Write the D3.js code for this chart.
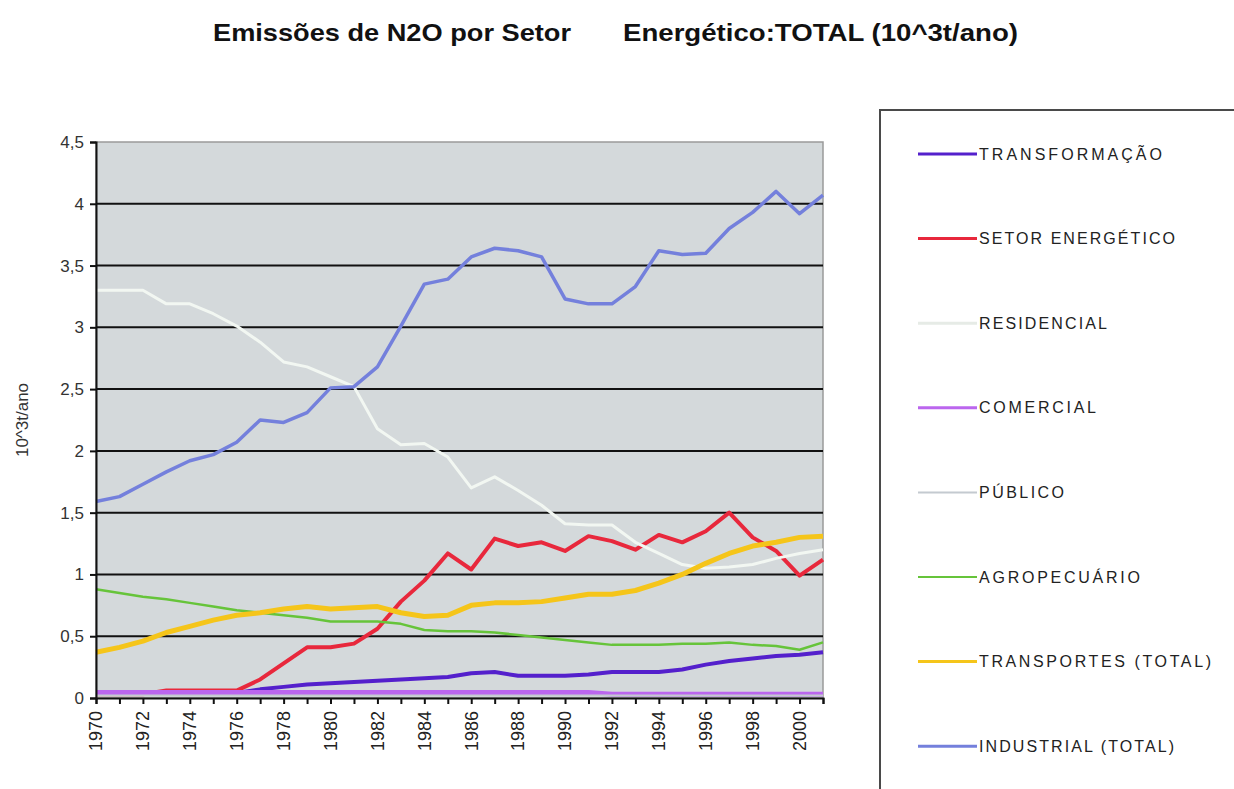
<!DOCTYPE html>
<html>
<head>
<meta charset="utf-8">
<script src="https://d3js.org/d3.v7.min.js"></script>
<style>
    body { margin: 0; background: #fff; }
    svg { display: block; font-family: "Liberation Sans", Arial, sans-serif; }
</style>
</head>
<body>
<div id="chart"></div>
<script>
// Data (10^3 t/ano)
const years = d3.range(1970, 2002);
const yTicks = [0, 0.5, 1, 1.5, 2, 2.5, 3, 3.5, 4, 4.5];
const yearLabels = d3.range(1970, 2001, 2);

const transformacao = [0.04, 0.04, 0.04, 0.04, 0.04, 0.04, 0.04, 0.07, 0.09, 0.11, 0.12, 0.13, 0.14, 0.15, 0.16, 0.17,
    0.20, 0.21, 0.18, 0.18, 0.18, 0.19, 0.21, 0.21, 0.21, 0.23, 0.27, 0.30, 0.32, 0.34, 0.35, 0.37];
const setorEnergetico = [0.03, 0.03, 0.03, 0.06, 0.06, 0.06, 0.06, 0.15, 0.28, 0.41, 0.41, 0.44, 0.56, 0.78, 0.95, 1.17,
    1.04, 1.29, 1.23, 1.26, 1.19, 1.31, 1.27, 1.20, 1.32, 1.26, 1.35, 1.50, 1.30, 1.19, 0.99, 1.12];
const residencial = [3.30, 3.30, 3.30, 3.19, 3.19, 3.11, 3.01, 2.88, 2.72, 2.68, 2.60, 2.52, 2.18, 2.05, 2.06, 1.95,
    1.70, 1.79, 1.68, 1.56, 1.41, 1.40, 1.40, 1.26, 1.17, 1.08, 1.05, 1.06, 1.08, 1.13, 1.17, 1.20];
const comercial = [0.045, 0.045, 0.045, 0.045, 0.045, 0.045, 0.045, 0.045, 0.045, 0.045, 0.045, 0.045, 0.045, 0.045, 0.045, 0.045,
    0.045, 0.045, 0.045, 0.045, 0.045, 0.045, 0.03, 0.03, 0.03, 0.03, 0.03, 0.03, 0.03, 0.03, 0.03, 0.03];
const publico = [0.02, 0.02, 0.02, 0.02, 0.02, 0.02, 0.02, 0.02, 0.02, 0.02, 0.02, 0.02, 0.02, 0.02, 0.02, 0.02,
    0.02, 0.02, 0.02, 0.02, 0.02, 0.02, 0.02, 0.02, 0.02, 0.02, 0.02, 0.02, 0.02, 0.02, 0.02, 0.02];
const agropecuario = [0.88, 0.85, 0.82, 0.80, 0.77, 0.74, 0.71, 0.69, 0.67, 0.65, 0.62, 0.62, 0.62, 0.60, 0.55, 0.54,
    0.54, 0.53, 0.51, 0.49, 0.47, 0.45, 0.43, 0.43, 0.43, 0.44, 0.44, 0.45, 0.43, 0.42, 0.39, 0.45];
const transportes = [0.37, 0.41, 0.46, 0.53, 0.58, 0.63, 0.67, 0.69, 0.72, 0.74, 0.72, 0.73, 0.74, 0.69, 0.66, 0.67,
    0.75, 0.77, 0.77, 0.78, 0.81, 0.84, 0.84, 0.87, 0.93, 1.00, 1.09, 1.17, 1.23, 1.26, 1.30, 1.31];
const industrial = [1.59, 1.63, 1.73, 1.83, 1.92, 1.97, 2.07, 2.25, 2.23, 2.31, 2.51, 2.52, 2.68, 3.01, 3.35, 3.39,
    3.57, 3.64, 3.62, 3.57, 3.23, 3.19, 3.19, 3.33, 3.62, 3.59, 3.60, 3.80, 3.93, 4.10, 3.92, 4.07];

// Series in Excel drawing order (later ones on top)
const series = [
    { name: 'TRANSFORMAÇÃO', values: transformacao, color: '#5420cc', width: 4 },
    { name: 'SETOR ENERGÉTICO', values: setorEnergetico, color: '#e8283c', width: 4 },
    { name: 'RESIDENCIAL', values: residencial, color: '#f2f7f2', width: 3 },
    { name: 'COMERCIAL', values: comercial, color: '#bb66ee', width: 5 },
    { name: 'PÚBLICO', values: publico, color: '#c4cad0', width: 2 },
    { name: 'AGROPECUÁRIO', values: agropecuario, color: '#66c43a', width: 2.5 },
    { name: 'TRANSPORTES (TOTAL)', values: transportes, color: '#f5c51a', width: 5 },
    { name: 'INDUSTRIAL (TOTAL)', values: industrial, color: '#7480dc', width: 3.5 }
];
const legendWidths = [183, 196, 128, 117, 85, 161, 232, 195];

const width = 1234;
const height = 789;
const margin = { top: 142, right: 411, bottom: 91, left: 96 };
const innerWidth = width - margin.left - margin.right;
const innerHeight = height - margin.top - margin.bottom;

const svg = d3.select('#chart')
    .append('svg')
    .attr('width', width)
    .attr('height', height);

// Title, in two pieces as in the original
svg.append('text')
    .attr('x', 213).attr('y', 41)
    .attr('font-size', 24).attr('font-weight', 'bold')
    .attr('fill', '#111')
    .attr('textLength', 358).attr('lengthAdjust', 'spacingAndGlyphs')
    .text('Emissões de N2O por Setor');
svg.append('text')
    .attr('x', 623).attr('y', 41)
    .attr('font-size', 24).attr('font-weight', 'bold')
    .attr('fill', '#111')
    .attr('textLength', 395).attr('lengthAdjust', 'spacingAndGlyphs')
    .text('Energético:TOTAL (10^3t/ano)');

const g = svg.append('g')
    .attr('transform', `translate(${margin.left},${margin.top})`);

// Scales
const x = d3.scaleLinear()
    .domain([1970, 2001])
    .range([0, innerWidth]);
const y = d3.scaleLinear()
    .domain([0, 4.5])
    .range([innerHeight, 0]);

// Plot background
g.append('rect')
    .attr('width', innerWidth)
    .attr('height', innerHeight)
    .attr('fill', '#d4d9db')
    .attr('stroke', '#9a9a9a')
    .attr('stroke-width', 1.5);

// Gridlines
g.selectAll('.grid')
    .data(yTicks.filter(d => d > 0 && d < 4.5))
    .enter()
    .append('line')
    .attr('class', 'grid')
    .attr('x1', 0).attr('x2', innerWidth)
    .attr('y1', d => y(d)).attr('y2', d => y(d))
    .attr('stroke', '#111')
    .attr('stroke-width', 2);

// Lines
const line = d3.line()
    .x((d, i) => x(years[i]))
    .y(d => y(d));

g.selectAll('.series')
    .data(series)
    .enter()
    .append('path')
    .attr('class', 'series')
    .attr('d', d => line(d.values))
    .attr('fill', 'none')
    .attr('stroke', d => d.color)
    .attr('stroke-width', d => d.width)
    .attr('stroke-linejoin', 'round');

// Y axis
const yAxis = d3.axisLeft(y)
    .tickValues(yTicks)
    .tickSize(6)
    .tickPadding(6)
    .tickFormat(d => String(d).replace('.', ','));

const yAxisG = g.append('g').call(yAxis);
yAxisG.attr('font-size', 17).attr('font-family', '"Liberation Sans", Arial, sans-serif');
yAxisG.select('.domain').attr('stroke', '#111').attr('stroke-width', 2);
yAxisG.selectAll('.tick line').attr('stroke', '#111').attr('stroke-width', 2);
yAxisG.selectAll('text').attr('fill', '#333');

// X axis: a tick every year; labels every 2 years drawn separately
const xAxis = d3.axisBottom(x)
    .tickValues(years)
    .tickSize(6)
    .tickFormat('');

const xAxisG = g.append('g')
    .attr('transform', `translate(0,${innerHeight})`)
    .call(xAxis);
xAxisG.select('.domain').attr('stroke', '#111').attr('stroke-width', 2);
xAxisG.selectAll('.tick line').attr('stroke', '#111').attr('stroke-width', 2);
xAxisG.selectAll('.tick text').remove();

g.selectAll('.year-label')
    .data(yearLabels)
    .enter()
    .append('text')
    .attr('class', 'year-label')
    .attr('transform', d => `translate(${x(d)},${innerHeight + 13}) rotate(-90)`)
    .attr('text-anchor', 'end')
    .attr('dy', '0.35em')
    .attr('font-size', 18)
    .attr('fill', '#222')
    .text(d => d);

// Y axis title
svg.append('text')
    .attr('transform', 'translate(22,420) rotate(-90)')
    .attr('text-anchor', 'middle')
    .attr('dy', '0.35em')
    .attr('font-size', 17)
    .attr('fill', '#333')
    .text('10^3t/ano');

// Legend frame: left and top only; it runs off the right and bottom edges like the original
svg.append('path')
    .attr('d', 'M1234,110 H880 V789')
    .attr('fill', 'none')
    .attr('stroke', '#4a4a4a')
    .attr('stroke-width', 2);

const legend = svg.selectAll('.legend-item')
    .data(series)
    .enter()
    .append('g')
    .attr('class', 'legend-item')
    .attr('transform', (d, i) => `translate(918,${154 + i * 84.6})`);

legend.append('line')
    .attr('x1', 0).attr('x2', 59)
    .attr('stroke', d => d.color === '#f2f7f2' ? '#e6ebe6' : d.color)
    .attr('stroke-width', d => d.name === 'PÚBLICO' || d.name === 'AGROPECUÁRIO' ? 2 : 3);

legend.append('text')
    .attr('x', 61)
    .attr('dy', '0.35em')
    .attr('font-size', 16)
    .attr('fill', '#222')
    .attr('textLength', (d, i) => legendWidths[i])
    .attr('lengthAdjust', 'spacing')
    .text(d => d.name);
</script>
</body>
</html>
